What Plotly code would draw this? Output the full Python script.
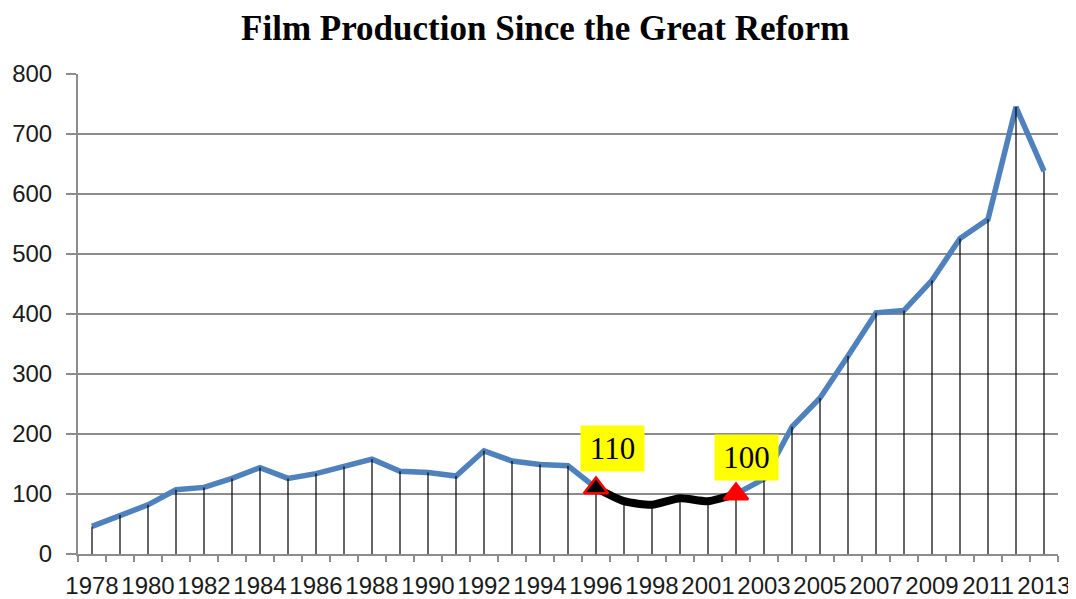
import plotly.graph_objects as go

# film output per year (the source skips 1999)
YEARS = ["1978", "1979", "1980", "1981", "1982", "1983", "1984", "1985",
         "1986", "1987", "1988", "1989", "1990", "1991", "1992", "1993",
         "1994", "1995", "1996", "1997", "1998", "2000", "2001", "2002",
         "2003", "2004", "2005", "2006", "2007", "2008", "2009", "2010",
         "2011", "2012", "2013"]
FILMS = [46, 65, 82, 107, 111, 126, 144, 126, 134, 146, 158, 138, 136, 130,
         172, 155, 149, 147, 110, 88, 82, 93, 88, 100, 125, 212, 260, 330,
         402, 406, 456, 526, 558, 745, 638]
SLUMP_FROM = "1996"
SLUMP_TO = "2002"
Y_TICKS = [0, 100, 200, 300, 400, 500, 600, 700, 800]

BLUE = "#4f81bd"
GRID = "#8c8c8c"
TICK_FONT = dict(family="Liberation Sans, Arial, sans-serif", size=24, color="#1a1a1a")

idx = list(range(len(YEARS)))
i0, i1 = YEARS.index(SLUMP_FROM), YEARS.index(SLUMP_TO)

fig = go.Figure()

# main series
fig.add_trace(go.Scatter(x=idx, y=FILMS, mode="lines",
                         line=dict(color=BLUE, width=5.5), hoverinfo="skip"))

# drop lines from each point to the axis
drop_x, drop_y = [], []
for i, v in zip(idx, FILMS):
    drop_x += [i, i, None]
    drop_y += [0, v, None]
fig.add_trace(go.Scatter(x=drop_x, y=drop_y, mode="lines",
                         line=dict(color="black", width=1.2), hoverinfo="skip"))

# the slump years, drawn over in black
fig.add_trace(go.Scatter(x=idx[i0:i1 + 1], y=FILMS[i0:i1 + 1], mode="lines",
                         line=dict(color="black", width=8, shape="spline", smoothing=0.6),
                         hoverinfo="skip"))

# end markers of the slump
fig.add_trace(go.Scatter(x=[i0, i1], y=[FILMS[i0], FILMS[i1]], mode="markers",
                         marker=dict(symbol="triangle-up", size=21,
                                     color=["black", "red"],
                                     line=dict(color="red", width=2.5)),
                         hoverinfo="skip"))

label_font = dict(family="Liberation Serif, Times New Roman, serif", size=31, color="black")
for i, dx, dy in [(i0, -16, 16), (i1, -22, 13)]:
    fig.add_annotation(x=i, y=FILMS[i], text=str(FILMS[i]), showarrow=False,
                       xanchor="left", yanchor="bottom", xshift=dx, yshift=dy,
                       width=49, height=31, borderpad=7,
                       bgcolor="#ffff00", font=label_font)

# page body adds an 8px offset, so margins are trimmed by that much
fig.update_layout(
    width=1068, height=591,
    paper_bgcolor="white", plot_bgcolor="white",
    showlegend=False,
    margin=dict(l=70, r=18, t=66, b=45, autoexpand=False),
    title=dict(text="<b>Film Production Since the Great Reform</b>",
               x=0.503, xanchor="center", y=0.967, yanchor="middle",
               font=dict(family="Liberation Serif, Times New Roman, serif",
                         size=35, color="black")),
)

fig.update_xaxes(range=[-0.5, len(YEARS) - 0.5], automargin=False,
                 tickmode="array", tickvals=idx[::2], ticktext=YEARS[::2],
                 ticks="", tickfont=TICK_FONT, ticklabelstandoff=9,
                 ticklabeloverflow="allow",
                 showgrid=False, zeroline=False,
                 showline=True, linecolor=GRID, linewidth=2,
                 minor=dict(tickmode="linear", tick0=-0.5, dtick=1,
                            ticks="outside", ticklen=6, tickcolor=GRID,
                            tickwidth=2, showgrid=False))

fig.update_yaxes(range=[0, 800], automargin=False, tickmode="array", tickvals=Y_TICKS,
                 ticks="outside", ticklen=10, tickcolor=GRID, tickwidth=2,
                 tickfont=TICK_FONT, ticklabelstandoff=9,
                 showgrid=True, gridcolor=GRID, gridwidth=2,
                 zeroline=False, showline=True, linecolor=GRID, linewidth=2)

fig.write_html("out.html")
